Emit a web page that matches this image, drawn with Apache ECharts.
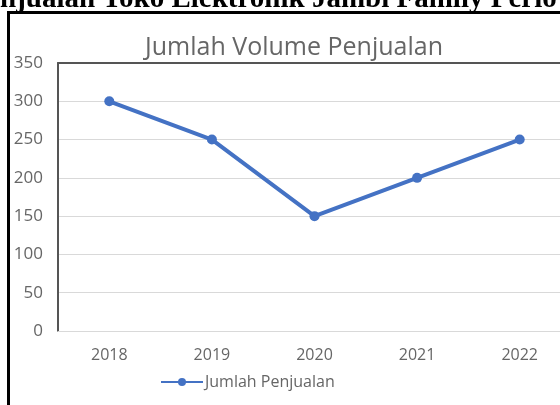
<!DOCTYPE html>
<html>
<head>
<meta charset="utf-8">
<script src="https://cdn.jsdelivr.net/npm/echarts@6/dist/echarts.min.js"></script>
<style>html,body{margin:0;padding:0;background:#fff}#c{width:560px;height:405px}</style>
</head>
<body>
<div id="c"></div>
<script>
const years = ['2018', '2019', '2020', '2021', '2022'];
const penjualan = [300, 250, 150, 200, 250];
const yTicks = [0, 50, 100, 150, 200, 250, 300, 350];
const headingText = 'njualan Toko Elektronik Jambi Family Perio';
const chartTitle = 'Jumlah Volume Penjualan';
const seriesName = 'Jumlah Penjualan';

const chart = echarts.init(document.getElementById('c'), null, {renderer: 'canvas'});
const gray = '#666666';
chart.setOption({
  animation: false,
  backgroundColor: '#fff',
  title: {
    text: chartTitle, left: 289, top: 30, textAlign: 'center',
    textStyle: {fontFamily: 'Open Sans', fontSize: 25, fontWeight: 'normal', color: gray}
  },
  legend: {
    data: [seriesName], left: 155, top: 369, itemWidth: 42, itemHeight: 10, itemGap: 4,
    textStyle: {fontFamily: 'Open Sans', fontSize: 16, color: gray, padding: [0,0,0,-3]}
  },
  grid: {left: 58, top: 63, width: 513, bottom: 74, containLabel: false, outerBoundsMode: 'none'},
  xAxis: [{
    type: 'category', data: years, boundaryGap: true,
    axisLine: {show: true, lineStyle: {color: '#d9d9d9', width: 1}},
    axisTick: {show: false},
    axisLabel: {fontFamily: 'Open Sans', fontSize: 16, color: gray, margin: 16}
  }, {
    type: 'category', data: years, position: 'top',
    axisLine: {show: true, lineStyle: {color: '#555', width: 2}},
    axisTick: {show: false}, axisLabel: {show: false}
  }],
  yAxis: {
    type: 'value', min: yTicks[0], max: yTicks[yTicks.length - 1], interval: 50,
    axisLine: {show: true, lineStyle: {color: '#555', width: 2}},
    axisTick: {show: false},
    axisLabel: {fontFamily: 'Open Sans', fontSize: 17, color: gray, margin: 15},
    splitLine: {lineStyle: {color: '#d9d9d9', width: 1}}
  },
  graphic: [
    {type: 'text', left: 0, top: -15, style: {text: headingText, font: 'bold 29px "Liberation Serif"', fill: '#000'}},
    {type: 'rect', shape: {x: 8.5, y: 12.5, width: 600, height: 450}, style: {fill: 'none', stroke: '#000', lineWidth: 3}, z: 10}
  ],
  series: [{
    name: seriesName, type: 'line', data: penjualan,
    symbol: 'circle', symbolSize: 10,
    lineStyle: {color: '#4472c4', width: 4},
    itemStyle: {color: '#4472c4'}
  }]
});
</script>
</body>
</html>
